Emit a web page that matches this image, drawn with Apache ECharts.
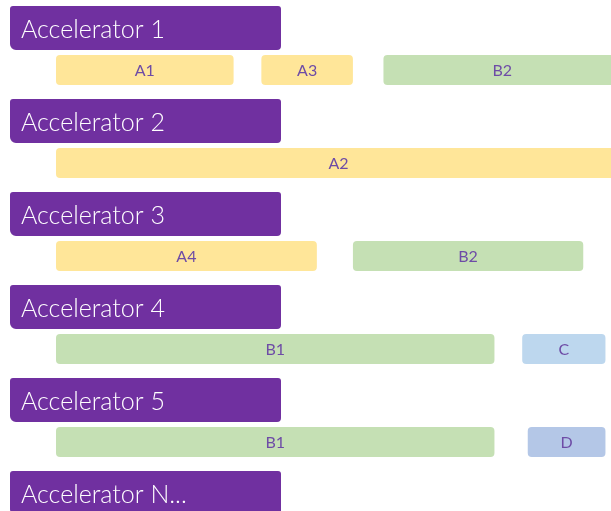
<!DOCTYPE html>
<html>
<head>
<meta charset="utf-8">
<script src="https://cdn.jsdelivr.net/npm/echarts@6/dist/echarts.min.js"></script>
<style>
  html, body { margin: 0; padding: 0; background: #fff; }
  #chart { width: 611px; height: 511px; }
</style>
</head>
<body>
<div id="chart"></div>
<script>
// rows (top to bottom)
var accelerators = ["Accelerator 1", "Accelerator 2", "Accelerator 3", "Accelerator 4", "Accelerator 5", "Accelerator N..."];

// tasks: row index, start, end (timeline units, 0..100 visible), label, kind
var taskRow   = [0, 0, 0, 1, 2, 2, 3, 3, 4, 4];
var taskStart = [0, 37, 59, 0, 0, 53.5, 0, 84, 0, 85];
var taskEnd   = [32, 53.5, 106, 106, 47, 95, 79, 99, 79, 99];
var taskName  = ["A1", "A3", "B2", "A2", "A4", "B2", "B1", "C", "B1", "D"];
var taskKind  = ["A", "A", "B", "A", "A", "B", "B", "C", "B", "D"];

var kindColor = { A: "#FFE699", B: "#C5E0B4", C: "#BDD7EE", D: "#B4C7E7" };
var purple = "#7030A0";
var labelColor = "#6E4CA6";
var font = "Lato";

var chart = echarts.init(document.getElementById("chart"), null, { renderer: "canvas" });

var taskData = taskRow.map(function (r, i) {
  return { value: [r, taskStart[i], taskEnd[i]], name: taskName[i], kind: taskKind[i] };
});

function renderTask(params, api) {
  var row = api.value(0);
  var s = api.coord([api.value(1), row]);
  var e = api.coord([api.value(2), row]);
  var band = api.size([0, 1])[1];
  var top = s[1] - band / 2 + 49;
  var item = taskData[params.dataIndex];
  var cs = params.coordSys;
  var x0 = s[0];
  var x1 = Math.min(e[0], cs.x + cs.width + 10);
  return {
    type: "rect",
    shape: { x: x0, y: top, width: x1 - x0, height: 30, r: 4 },
    style: { fill: kindColor[item.kind] },
    textContent: {
      style: { text: item.name, fill: labelColor, fontSize: 16, fontFamily: font }
    },
    textConfig: { position: "inside", offset: [0, 1] }
  };
}

function renderHeader(params, api) {
  var row = api.value(0);
  var c = api.coord([0, row]);
  var band = api.size([0, 1])[1];
  var top = c[1] - band / 2;
  return {
    type: "rect",
    shape: { x: c[0] - 46, y: top, width: 271, height: 44, r: [3, 3, 4, 6] },
    style: { fill: purple },
    textContent: {
      style: { text: accelerators[row], fill: "#fff", fontSize: 25, fontFamily: font, fontWeight: 300 }
    },
    textConfig: { position: "insideLeft", distance: 11, offset: [0, 2] }
  };
}

var option = {
  backgroundColor: "#fff",
  animation: false,
  grid: { left: 56, right: 0, top: 6, height: 558, outerBoundsMode: "none", containLabel: false },
  xAxis: { type: "value", min: 0, max: 100, show: false },
  yAxis: { type: "category", data: accelerators, inverse: true, show: false },
  series: [
    {
      type: "custom",
      clip: false,
      renderItem: renderHeader,
      data: accelerators.map(function (a, i) { return [i]; }),
      encode: { y: 0 }
    },
    {
      type: "custom",
      clip: true,
      renderItem: renderTask,
      data: taskData,
      encode: { y: 0, x: [1, 2] }
    }
  ]
};

chart.setOption(option);
</script>
</body>
</html>
